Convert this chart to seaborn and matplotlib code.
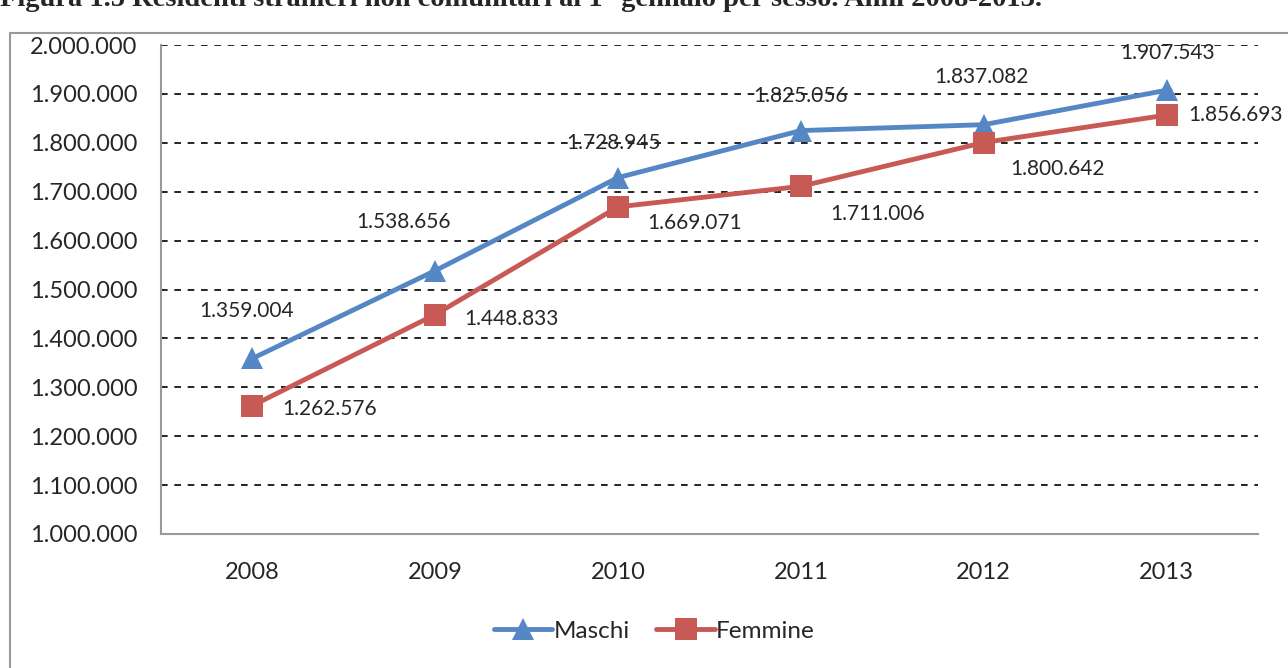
import matplotlib
matplotlib.use("Agg")
import matplotlib.pyplot as plt
import seaborn as sns
import pandas as pd
from matplotlib.patches import Rectangle
from matplotlib.lines import Line2D
from matplotlib.ticker import FuncFormatter, MultipleLocator, FixedLocator

anni = [2008, 2009, 2010, 2011, 2012, 2013]
maschi = [1359004, 1538656, 1728945, 1825056, 1837082, 1907543]
femmine = [1262576, 1448833, 1669071, 1711006, 1800642, 1856693]

df = pd.DataFrame({"anno": [str(a) for a in anni] * 2,
                   "valore": maschi + femmine,
                   "sesso": ["Maschi"] * len(anni) + ["Femmine"] * len(anni)})

sns.set_style("white")
plt.rcParams["font.family"] = ["Lato", "DejaVu Sans"]

fig = plt.figure(figsize=(12.88, 6.68), dpi=100)
ax = fig.add_axes([0.125, 0.2006, 0.8517, 0.732])

colori = {"Maschi": "#5587C5", "Femmine": "#C85A55"}
sns.lineplot(data=df, x="anno", y="valore", hue="sesso", style="sesso",
             markers={"Maschi": "^", "Femmine": "s"}, dashes=False,
             palette=colori, linewidth=3.5, markersize=16,
             markeredgewidth=0, ax=ax, legend=False)

def ita(v, pos=None):
    return f"{int(round(v)):,}".replace(",", ".")

# label offsets (pixels) as placed by the original chart
off_m = [(-6, 47), (-32, 49), (-5, 35), (0, 35), (-2, 48), (1, 37)]
off_f = [(77, -3), (76, -4), (76, -16), (77, -28), (74, -26), (69, 0)]
for i in range(len(anni)):
    ax.annotate(ita(maschi[i]), (i, maschi[i]), xytext=off_m[i],
                textcoords="offset pixels", ha="center", va="center", fontsize=15)
    ax.annotate(ita(femmine[i]), (i, femmine[i]), xytext=off_f[i],
                textcoords="offset pixels", ha="center", va="center", fontsize=15)

ax.set_xlim(-0.5, len(anni) - 0.5)
ax.set_ylim(1000000, 2000000)
ax.yaxis.set_major_locator(MultipleLocator(100000))
ax.yaxis.set_major_formatter(FuncFormatter(ita))
ax.xaxis.set_minor_locator(FixedLocator([i - 0.5 for i in range(len(anni) + 1)]))
ax.tick_params(axis="x", which="major", length=0, pad=20, labelsize=17)
ax.tick_params(axis="x", which="minor", length=8, color="#999999", width=1.2)
ax.tick_params(axis="y", length=8, color="#999999", width=1.2, labelsize=17, pad=9)
ax.set_xlabel("")
ax.set_ylabel("")
ax.grid(axis="y", color="black", linestyle=(0, (4, 4)), linewidth=1.2)
for s in ["top", "right"]:
    ax.spines[s].set_visible(False)
for s in ["left", "bottom"]:
    ax.spines[s].set_color("#999999")
    ax.spines[s].set_linewidth(1.5)

handles = [Line2D([], [], color=colori["Maschi"], marker="^", lw=3.5, ms=16, mew=0),
           Line2D([], [], color=colori["Femmine"], marker="s", lw=3.5, ms=16, mew=0)]
fig.legend(handles, ["Maschi", "Femmine"], loc="center", bbox_to_anchor=(0.508, 1 - 631 / 668),
           ncol=2, frameon=False, fontsize=17.5, handlelength=2.4, handletextpad=0.05,
           columnspacing=1.1)

fig.patches.append(Rectangle((10 / 1288, -0.1), 1.2, 1 - 33 / 668 + 0.1,
                             transform=fig.transFigure, fill=False,
                             edgecolor="#999999", linewidth=1.5))
fig.text(0.0, 1 - 6 / 668,
         "Figura 1.5 Residenti stranieri non comunitari al 1° gennaio per sesso. Anni 2008-2013.",
         family="Liberation Serif", weight="bold", fontsize=20.5, va="baseline", ha="left")

fig.savefig("out.png", dpi=100)
